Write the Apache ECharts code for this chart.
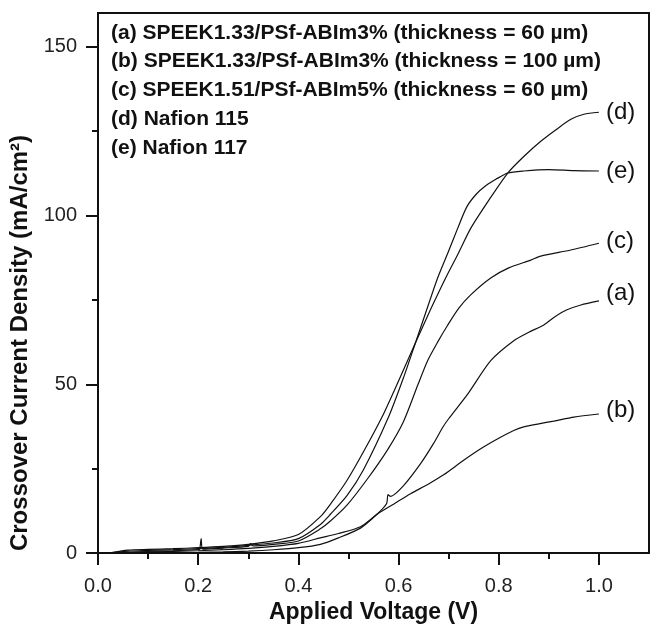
<!DOCTYPE html>
<html>
<head>
<meta charset="utf-8">
<script src="https://cdn.jsdelivr.net/npm/echarts@6/dist/echarts.min.js"></script>
<style>
html, body { margin: 0; padding: 0; background: #fff; }
#chart { width: 650px; height: 629px; }
</style>
</head>
<body>
<div id="chart"></div>
<script>
// tick positions
const xMajor = [0, 0.2, 0.4, 0.6, 0.8, 1.0]
const xMinor = [0.1, 0.3, 0.5, 0.7, 0.9]
const yMajor = [0, 50, 100, 150]
const yMinor = [25, 75, 125]

const legendLines = [
    "(a) SPEEK1.33/PSf-ABIm3% (thickness = 60 \u00b5m)",
    "(b) SPEEK1.33/PSf-ABIm3% (thickness = 100 \u00b5m)",
    "(c) SPEEK1.51/PSf-ABIm5% (thickness = 60 \u00b5m)",
    "(d) Nafion 115",
    "(e) Nafion 117",
]

// (a) SPEEK1.33 60um
const voltA = [0.02, 0.1, 0.2, 0.25, 0.3, 0.35, 0.4, 0.444, 0.48, 0.524, 0.557, 0.576, 0.579, 0.584, 0.61, 0.644, 0.67, 0.688, 0.7, 0.738, 0.784, 0.83, 0.86, 0.89, 0.91, 0.935, 0.964, 1.0]
const currA = [0, 0.1, 0.2, 0.35, 0.6, 1.0, 1.6, 2.6, 4.5, 7.4, 11.5, 14.6, 17.3, 16.8, 20.0, 26.5, 32.5, 37.2, 39.8, 47.1, 57, 62.9, 65.4, 67.6, 69.8, 72, 73.5, 74.7]

// (b) SPEEK1.33 100um
const voltB = [0.02, 0.1, 0.2, 0.25, 0.3, 0.35, 0.4, 0.444, 0.48, 0.524, 0.557, 0.59, 0.624, 0.66, 0.69, 0.73, 0.764, 0.8, 0.83, 0.85, 0.88, 0.91, 0.95, 1.0]
const currB = [0, 0.3, 0.7, 1.0, 1.4, 2.0, 2.9, 4.5, 5.8, 7.8, 11.5, 14.5, 17.6, 20.5, 23.2, 27.5, 30.9, 34, 36.3, 37.4, 38.3, 39.1, 40.3, 41.2]

// (c) SPEEK1.51 60um
const voltC = [0.02, 0.08, 0.15, 0.2, 0.203, 0.206, 0.209, 0.25, 0.3, 0.305, 0.31, 0.35, 0.4, 0.444, 0.464, 0.497, 0.537, 0.578, 0.61, 0.639, 0.658, 0.678, 0.698, 0.72, 0.744, 0.784, 0.82, 0.864, 0.884, 0.944, 1.0]
const currC = [0, 0.4, 0.7, 1.0, 1.1, 4.3, 1.2, 1.5, 2.0, 2.8, 2.1, 2.6, 3.6, 7.2, 9.5, 14.2, 21.8, 30.6, 39, 50, 57, 62.5, 67.5, 72.5, 76.5, 81.5, 84.5, 86.8, 88, 89.8, 91.8]

// (d) Nafion 115
const voltD = [0.02, 0.06, 0.1, 0.15, 0.2, 0.25, 0.3, 0.35, 0.4, 0.444, 0.464, 0.497, 0.53, 0.567, 0.6, 0.634, 0.665, 0.694, 0.72, 0.744, 0.78, 0.818, 0.85, 0.884, 0.915, 0.944, 0.97, 1.0]
const currD = [0, 0.9, 1.1, 1.3, 1.6, 2.0, 2.6, 3.6, 5.5, 10.8, 14.5, 21.5, 30, 40.3, 51, 62.4, 72.5, 81.5, 89, 96.2, 104.5, 112.6, 117.5, 122, 125.5, 128.5, 130, 130.6]

// (e) Nafion 117
const voltE = [0.02, 0.06, 0.1, 0.15, 0.2, 0.25, 0.3, 0.35, 0.4, 0.444, 0.464, 0.497, 0.53, 0.58, 0.61, 0.634, 0.656, 0.678, 0.7, 0.718, 0.736, 0.755, 0.774, 0.795, 0.818, 0.85, 0.9, 0.95, 1.0]
const currE = [0, 0.6, 0.8, 1.0, 1.3, 1.7, 2.3, 3.0, 4.3, 8.5, 11.5, 17, 24.7, 40.3, 52, 62.4, 72, 81.5, 89.5, 96.2, 102.5, 106.3, 108.8, 110.8, 112.6, 113.2, 113.6, 113.3, 113.2]

const FONT = "Liberation Sans"
const INK = "#111"

function pairs(xs, ys) {
    return xs.map((x, i) => [x, ys[i]])
}

function curve(name, xs, ys, offset) {
    return {
        name: name,
        type: "line",
        data: pairs(xs, ys),
        showSymbol: false,
        smooth: 0.25,
        lineStyle: { color: INK, width: 1.2 },
        endLabel: {
            show: true,
            formatter: name,
            distance: 7,
            offset: offset || [0, 0],
            fontFamily: FONT,
            fontSize: 24,
            color: INK
        },
        emphasis: { disabled: true }
    }
}

let myChart = echarts.init(document.getElementById("chart"))

let option = {
    animation: false,
    backgroundColor: "#fff",
    grid: {
        left: 98,
        right: 1,
        top: 13,
        bottom: 72,
        show: true,
        borderColor: INK,
        borderWidth: 2,
        backgroundColor: "transparent"
    },
    xAxis: [
        {
            type: "value",
            min: 0,
            max: 1.1,
            position: "bottom",
            axisLine: { show: true, lineStyle: { color: INK, width: 2 } },
            axisTick: { show: true, customValues: xMajor, length: 12, lineStyle: { color: INK, width: 2 } },
            axisLabel: {
                customValues: xMajor,
                formatter: v => v.toFixed(1),
                fontFamily: FONT,
                fontSize: 20,
                color: "#222",
                margin: 23
            },
            splitLine: { show: false },
            name: "Applied Voltage (V)",
            nameLocation: "middle",
            nameGap: 46,
            nameTextStyle: { fontFamily: FONT, fontSize: 23, fontWeight: "bold", color: INK }
        },
        {
            type: "value",
            min: 0,
            max: 1.1,
            position: "bottom",
            axisLine: { show: false },
            axisTick: { show: true, customValues: xMinor, length: 6, lineStyle: { color: INK, width: 2 } },
            axisLabel: { show: false },
            splitLine: { show: false }
        }
    ],
    yAxis: [
        {
            type: "value",
            min: 0,
            max: 160,
            position: "left",
            axisLine: { show: true, lineStyle: { color: INK, width: 2 } },
            axisTick: { show: true, customValues: yMajor, length: 12, lineStyle: { color: INK, width: 2 } },
            axisLabel: {
                customValues: yMajor,
                fontFamily: FONT,
                fontSize: 20,
                color: "#222",
                margin: 21
            },
            splitLine: { show: false }
        },
        {
            type: "value",
            min: 0,
            max: 160,
            position: "left",
            axisLine: { show: false },
            axisTick: { show: true, customValues: yMinor, length: 6, lineStyle: { color: INK, width: 2 } },
            axisLabel: { show: false },
            splitLine: { show: false }
        }
    ],
    graphic: [
        {
            type: "text",
            x: 20,
            y: 343,
            rotation: Math.PI / 2,
            style: {
                text: "Crossover Current Density (mA/cm\u00b2)",
                font: "bold 24px \"" + FONT + "\"",
                fill: INK,
                align: "center",
                verticalAlign: "middle",
                textAlign: "center",
                textVerticalAlign: "middle"
            }
        }
    ].concat(legendLines.map((line, i) => ({
        type: "text",
        x: 111,
        y: 33 + i * 28.7,
        style: {
            text: line,
            font: "bold 21px \"" + FONT + "\"",
            fill: INK,
            align: "left",
            verticalAlign: "middle",
            textAlign: "left",
            textVerticalAlign: "middle"
        }
    }))),
    series: [
        curve("(a)", voltA, currA, [0, -8]),
        curve("(b)", voltB, currB, [0, -4]),
        curve("(c)", voltC, currC, [0, -2]),
        curve("(d)", voltD, currD),
        curve("(e)", voltE, currE)
    ]
}

myChart.setOption(option)
</script>
</body>
</html>
